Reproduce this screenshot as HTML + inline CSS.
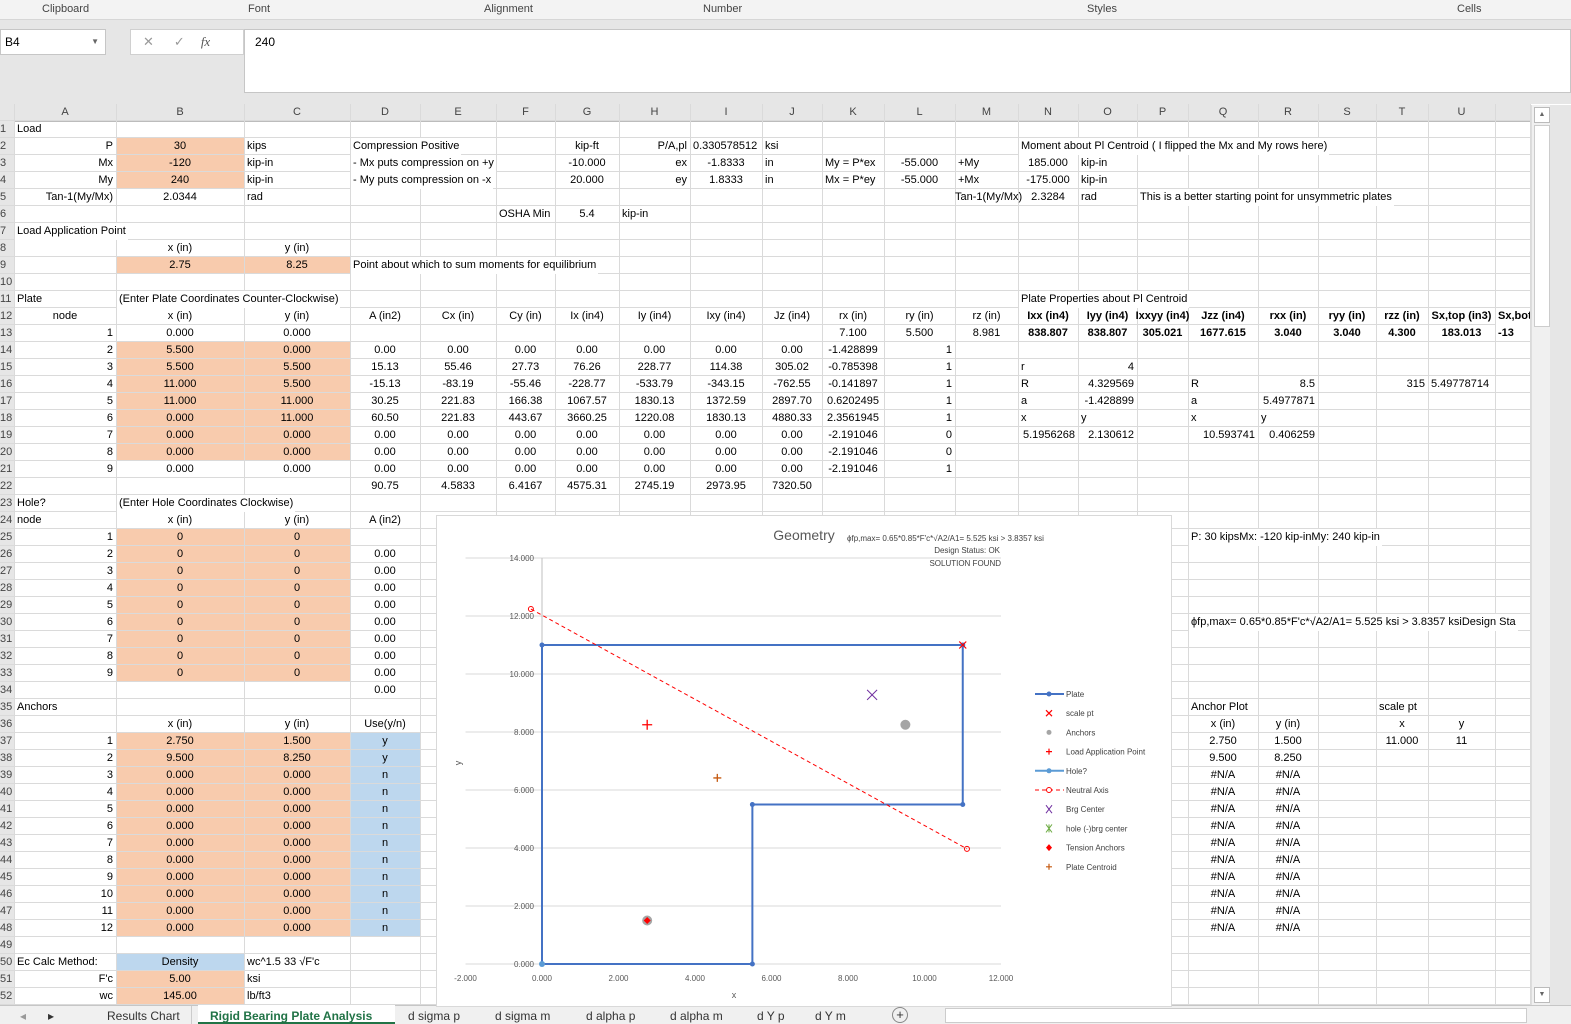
<!DOCTYPE html>
<html><head><meta charset="utf-8">
<style>
body{margin:0;width:1571px;height:1023px;overflow:hidden;background:#fff;font-family:"Liberation Sans",sans-serif;position:relative}
.abs{position:absolute}
.c{position:absolute;font-size:11px;line-height:17px;height:17px;white-space:nowrap;color:#000}
.gl{position:absolute;background:#dadada}
</style></head><body>
<div class="abs" style="left:0;top:0;width:1571px;height:19px;background:#f3f3f3;border-bottom:1px solid #d6d6d6;font-size:11px;color:#444">
 <span class="abs" style="left:42px;top:3px">Clipboard</span>
 <span class="abs" style="left:248px;top:3px">Font</span>
 <span class="abs" style="left:484px;top:3px">Alignment</span>
 <span class="abs" style="left:703px;top:3px">Number</span>
 <span class="abs" style="left:1087px;top:3px">Styles</span>
 <span class="abs" style="left:1457px;top:3px">Cells</span>
</div>
<div class="abs" style="left:0;top:20px;width:1571px;height:84px;background:#e6e6e6"></div>
<div class="abs" style="left:0;top:29px;width:100px;height:24px;background:#fff;border:1px solid #c6c6c6;font-size:12px;line-height:24px;padding-left:4px">B4<span style="position:absolute;right:6px;font-size:8px;color:#666">▼</span></div>
<div class="abs" style="left:130px;top:29px;width:112px;height:24px;background:#fff;border:1px solid #d0d0d0;font-size:13px;line-height:24px;color:#999"><span style="margin-left:12px">✕</span><span style="margin-left:20px">✓</span><span style="margin-left:16px;font-style:italic;color:#555;font-family:'Liberation Serif'">fx</span></div>
<div class="abs" style="left:244px;top:29px;width:1327px;height:64px;background:#fff;border:1px solid #c6c6c6;font-size:12px;padding:5px 10px;box-sizing:border-box">240</div>
<div class="abs" style="left:0;top:104px;width:1530px;height:17px;background:#e6e6e6;border-bottom:1px solid #bcbcbc"></div>
<div class="abs" style="left:0;top:121px;width:14px;height:884px;background:#e6e6e6;border-right:1px solid #bcbcbc"></div>
<div id="sheet"></div>
<div class="abs" style="left:1531px;top:105px;width:18px;height:900px;background:#f0f0f0;border-left:1px solid #ddd"><div style="position:absolute;left:2px;top:2px;width:14px;height:14px;background:#fff;border:1px solid #bbb;font-size:7px;text-align:center;line-height:14px;color:#666">▲</div><div style="position:absolute;left:2px;top:20px;width:14px;height:200px;background:#fff;border:1px solid #ccc"></div><div style="position:absolute;left:2px;bottom:2px;width:14px;height:14px;background:#fff;border:1px solid #bbb;font-size:7px;text-align:center;line-height:14px;color:#666">▼</div></div>
<div class="abs" style="left:1550px;top:105px;width:21px;height:918px;background:#e6e6e6"></div>
<div class="abs" style="left:0;top:1005px;width:1571px;height:18px;background:#f0f0f0;border-top:1px solid #c6c6c6;font-size:12px;color:#333">
 <span class="abs" style="left:20px;top:3px;color:#999">◂</span><span class="abs" style="left:48px;top:3px">▸</span>
 <span class="abs" style="left:96px;top:0;height:18px;padding:3px 11px 0;box-sizing:border-box;border-right:1px solid #ccc">Results Chart</span>
 <span class="abs" style="left:198px;top:-1px;width:197px;height:19px;background:#fff;color:#217346;font-weight:bold;padding:4px 0 0 12px;box-sizing:border-box;border-bottom:2px solid #217346">Rigid Bearing Plate Analysis</span>
 <span class="abs" style="left:408px;top:3px">d sigma p</span>
 <span class="abs" style="left:495px;top:3px">d sigma m</span>
 <span class="abs" style="left:586px;top:3px">d alpha p</span>
 <span class="abs" style="left:670px;top:3px">d alpha m</span>
 <span class="abs" style="left:757px;top:3px">d Y p</span>
 <span class="abs" style="left:815px;top:3px">d Y m</span>
 <span class="abs" style="left:892px;top:1px;width:14px;height:14px;border:1px solid #888;border-radius:50%;text-align:center;line-height:14px;font-size:13px">+</span>
 <span class="abs" style="left:945px;top:2px;width:580px;height:13px;background:#fff;border:1px solid #ccc"></span>
</div>

<svg id="chart" class="abs" style="left:436px;top:515px;background:#fff;border:1px solid #d9d9d9" width="734" height="490" font-family="Liberation Sans, sans-serif"></svg>

<script>
const colX=[14,116,244,350,420,496,555,619,690,762,822,884,955,1018,1078,1137,1188,1258,1318,1376,1428,1495,1530];
const letters="ABCDEFGHIJKLMNOPQRSTUV";
const rowTop=r=>121+(r-1)*17;
const sheet=document.getElementById('sheet');
const ORANGE='#f8cbad',BLUE='#bdd7ee';
function ci(L){return letters.indexOf(L);}
function fill(c1,c2,r1,r2,col){
 const d=document.createElement('div');d.className='abs';
 
 
 d.style.cssText=`left:${colX[ci(c1)]}px;top:${rowTop(r1)}px;width:${colX[ci(c2)+1]-colX[ci(c1)]}px;height:${(r2-r1+1)*17}px;background:${col}`;
 sheet.appendChild(d);
}
fill('B','B',2,4,ORANGE);fill('B','C',9,9,ORANGE);fill('B','C',14,20,ORANGE);fill('B','C',25,33,ORANGE);
fill('B','C',37,48,ORANGE);fill('B','B',51,52,ORANGE);fill('D','D',37,48,BLUE);fill('B','B',50,50,BLUE);
for(let i=0;i<colX.length;i++){const g=document.createElement('div');g.className='gl';
 
 
 g.style.cssText=`left:${colX[i]}px;top:104px;width:1px;height:901px`;sheet.appendChild(g);
 if(i<colX.length-2){const h=document.createElement('div');h.className='c';
 
 
 h.style.cssText=`left:${colX[i]}px;top:104px;width:${colX[i+1]-colX[i]}px;text-align:center;color:#444`;h.textContent=letters[i];sheet.appendChild(h);}}
for(let r=1;r<=53;r++){const g=document.createElement('div');g.className='gl';
 
 
 g.style.cssText=`left:0;top:${rowTop(r)-1}px;width:1530px;height:1px`;sheet.appendChild(g);
 if(r<=52){const h=document.createElement('div');h.className='c';
 
 
 h.style.cssText=`left:0;top:${rowTop(r)}px;width:14px;overflow:hidden;direction:rtl;text-align:left;color:#444`;h.textContent=r;sheet.appendChild(h);}}
const cells=[
['A',1,'Load','l'],
['A',2,'P','r'],['B',2,'30','c'],['C',2,'kips','l'],['D',2,'Compression Positive','l'],['G',2,'kip-ft','c'],['H',2,'P/A,pl','r'],['I',2,'0.330578512','l'],['J',2,'ksi','l'],['N',2,'Moment about Pl Centroid ( I flipped the Mx and My rows here)','l'],
['A',3,'Mx','r'],['B',3,'-120','c'],['C',3,'kip-in','l'],['D',3,'- Mx puts compression on +y','l'],['G',3,'-10.000','c'],['H',3,'ex','r'],['I',3,'-1.8333','c'],['J',3,'in','l'],['K',3,'My = P*ex','l'],['L',3,'-55.000','c'],['M',3,'+My','l'],['N',3,'185.000','c'],['O',3,'kip-in','l'],
['A',4,'My','r'],['B',4,'240','c'],['C',4,'kip-in','l'],['D',4,'- My puts compression on -x','l'],['G',4,'20.000','c'],['H',4,'ey','r'],['I',4,'1.8333','c'],['J',4,'in','l'],['K',4,'Mx = P*ey','l'],['L',4,'-55.000','c'],['M',4,'+Mx','l'],['N',4,'-175.000','c'],['O',4,'kip-in','l'],
['A',5,'Tan-1(My/Mx)','r'],['B',5,'2.0344','c'],['C',5,'rad','l'],['M',5,'Tan-1(My/Mx)','r'],['N',5,'2.3284','c'],['O',5,'rad','l'],['P',5,'This is a better starting point for unsymmetric plates','l'],
['F',6,'OSHA Min','l'],['G',6,'5.4','c'],['H',6,'kip-in','l'],
['A',7,'Load Application Point','l'],
['B',8,'x (in)','c'],['C',8,'y (in)','c'],
['B',9,'2.75','c'],['C',9,'8.25','c'],['D',9,'Point about which to sum moments for equilibrium','l'],
['A',11,'Plate','l'],['B',11,'(Enter Plate Coordinates Counter-Clockwise)','l'],['N',11,'Plate Properties about Pl Centroid','l'],
['A',12,'node','c'],['B',12,'x (in)','c'],['C',12,'y (in)','c'],['D',12,'A (in2)','c'],['E',12,'Cx (in)','c'],['F',12,'Cy (in)','c'],['G',12,'Ix (in4)','c'],['H',12,'Iy (in4)','c'],['I',12,'Ixy (in4)','c'],['J',12,'Jz (in4)','c'],['K',12,'rx (in)','c'],['L',12,'ry (in)','c'],['M',12,'rz (in)','c'],
['N',12,'Ixx (in4)','c',1],['O',12,'Iyy (in4)','c',1],['P',12,'Ixxyy (in4)','c',1],['Q',12,'Jzz (in4)','c',1],['R',12,'rxx (in)','c',1],['S',12,'ryy (in)','c',1],['T',12,'rzz (in)','c',1],['U',12,'Sx,top (in3)','c',1],['V',12,'Sx,bot','l',1],
['A',13,'1','r'],['B',13,'0.000','c'],['C',13,'0.000','c'],['K',13,'7.100','c'],['L',13,'5.500','c'],['M',13,'8.981','c'],
['N',13,'838.807','c',1],['O',13,'838.807','c',1],['P',13,'305.021','c',1],['Q',13,'1677.615','c',1],['R',13,'3.040','c',1],['S',13,'3.040','c',1],['T',13,'4.300','c',1],['U',13,'183.013','c',1],['V',13,'  -13','l',1],
['N',15,'r','l'],['O',15,'4','r'],
['N',16,'R','l'],['O',16,'4.329569','r'],['Q',16,'R','l'],['R',16,'8.5','r'],['T',16,'315','r'],['U',16,'5.49778714','l'],
['N',17,'a','l'],['O',17,'-1.428899','r'],['Q',17,'a','l'],['R',17,'5.4977871','r'],
['N',18,'x','l'],['O',18,'y','l'],['Q',18,'x','l'],['R',18,'y','l'],
['N',19,'5.1956268','r'],['O',19,'2.130612','r'],['Q',19,'10.593741','r'],['R',19,'0.406259','r'],
['D',22,'90.75','c'],['E',22,'4.5833','c'],['F',22,'6.4167','c'],['G',22,'4575.31','c'],['H',22,'2745.19','c'],['I',22,'2973.95','c'],['J',22,'7320.50','c'],
['A',23,'Hole?','l'],['B',23,'(Enter Hole Coordinates Clockwise)','l'],
['A',24,'node','l'],['B',24,'x (in)','c'],['C',24,'y (in)','c'],['D',24,'A (in2)','c'],
['Q',25,'P: 30 kipsMx: -120 kip-inMy: 240 kip-in','l'],
['Q',30,'ϕfp,max= 0.65*0.85*F\'c*√A2/A1= 5.525 ksi > 3.8357 ksiDesign Sta','l'],
['A',35,'Anchors','l'],['Q',35,'Anchor Plot','l'],['T',35,'scale pt','l'],
['B',36,'x (in)','c'],['C',36,'y (in)','c'],['D',36,'Use(y/n)','c'],['Q',36,'x (in)','c'],['R',36,'y (in)','c'],['T',36,'x','c'],['U',36,'y','c'],
['T',37,'11.000','c'],['U',37,'11','c'],
['A',50,'Ec Calc Method:','l'],['B',50,'Density','c'],['C',50,'wc^1.5 33 √F\'c','l'],
['A',51,'F\'c','r'],['B',51,'5.00','c'],['C',51,'ksi','l'],
['A',52,'wc','r'],['B',52,'145.00','c'],['C',52,'lb/ft3','l']
];
const plateRows=[
['5.500','0.000',['0.00','0.00','0.00','0.00','0.00','0.00','0.00'],'-1.428899','1'],
['5.500','5.500',['15.13','55.46','27.73','76.26','228.77','114.38','305.02'],'-0.785398','1'],
['11.000','5.500',['-15.13','-83.19','-55.46','-228.77','-533.79','-343.15','-762.55'],'-0.141897','1'],
['11.000','11.000',['30.25','221.83','166.38','1067.57','1830.13','1372.59','2897.70'],'0.6202495','1'],
['0.000','11.000',['60.50','221.83','443.67','3660.25','1220.08','1830.13','4880.33'],'2.3561945','1'],
['0.000','0.000',['0.00','0.00','0.00','0.00','0.00','0.00','0.00'],'-2.191046','0'],
['0.000','0.000',['0.00','0.00','0.00','0.00','0.00','0.00','0.00'],'-2.191046','0'],
['0.000','0.000',['0.00','0.00','0.00','0.00','0.00','0.00','0.00'],'-2.191046','1']];
plateRows.forEach((p,i)=>{const r=14+i;cells.push(['A',r,String(i+2),'r'],['B',r,p[0],'c'],['C',r,p[1],'c'],['K',r,p[3],'c'],['L',r,p[4],'r']);
 p[2].forEach((v,j)=>cells.push(['DEFGHIJ'[j],r,v,'c']));});
for(let i=0;i<9;i++){const r=25+i;cells.push(['A',r,String(i+1),'r'],['B',r,'0','c'],['C',r,'0','c'],['D',r+1,'0.00','c']);}
const anc=[['2.750','1.500','y'],['9.500','8.250','y']];
for(let i=0;i<12;i++){const r=37+i;const a=anc[i]||['0.000','0.000','n'];
 cells.push(['A',r,String(i+1),'r'],['B',r,a[0],'c'],['C',r,a[1],'c'],['D',r,a[2],'c'],['Q',r,i<2?a[0]:'#N/A','c'],['R',r,i<2?a[1]:'#N/A','c']);}
cells.forEach(([L,r,t,a,b])=>{const i=ci(L);const x0=colX[i],w=(colX[i+1]||1560)-x0;
 const d=document.createElement('div');d.className='c';
 
 
 let st=`top:${rowTop(r)}px;`;
 if(a==='l')st+=`left:${x0+1}px;padding-left:2px;padding-right:2px;`+(t.length*6>w?'background:#fff;':'');
 else if(a==='r')st+=`left:${x0}px;width:${w-3}px;text-align:right;`;
 else st+=`left:${x0-20}px;width:${w+40}px;text-align:center;`;
 if(b)st+='font-weight:bold;';
 if(L==='V'||(L==='Q'&&r===30))st+='max-width:'+(1530-x0-5)+'px;overflow:hidden;';
 d.style.cssText=st;d.textContent=t;sheet.appendChild(d);});
</script>

<script>
const plateX=[0,5.5,5.5,11,11,0,0];
const plateY=[0,0,5.5,5.5,11,11,0];
const naX=[-0.29,11.11];
const naY=[12.24,3.97];
const anchorX=[2.75,9.5];
const anchorY=[1.5,8.25];
const loadPt=[2.75,8.25];
const scalePt=[11,11];
const brgCenter=[8.63,9.28];
const centroid=[4.5833,6.4167];
const tensionAnchor=[2.75,1.5];
const holePt=[0,0];
const xTicks=[-2,0,2,4,6,8,10,12];
const yTicks=[0,2,4,6,8,10,12,14];
const xTickLabels=['-2.000','0.000','2.000','4.000','6.000','8.000','10.000','12.000'];
const yTickLabels=['0.000','2.000','4.000','6.000','8.000','10.000','12.000','14.000'];
const legendLabels=['Plate','scale pt','Anchors','Load Application Point','Hole?','Neutral Axis','Brg Center','hole (-)brg center','Tension Anchors','Plate Centroid'];

const svg=document.getElementById('chart');const NS='http://www.w3.org/2000/svg';
const sx=v=>105+(v)*38.25, sy=v=>448-v*29;
function el(tag,attrs,name,parent){const e=document.createElementNS(NS,tag);for(const k in attrs)e.setAttribute(k,attrs[k]);
 
 
 (parent||svg).appendChild(e);return e;}
yTicks.forEach((t,i)=>{el('line',{x1:sx(-2),x2:sx(12),y1:sy(t),y2:sy(t),stroke:'#d9d9d9','stroke-width':1},'y-gridline');
 const tx=el('text',{x:sx(0)-8,y:sy(t)+3,'font-size':8,fill:'#595959','text-anchor':'end'},'y-tick-label');tx.textContent=yTickLabels[i];});
el('line',{x1:sx(0),x2:sx(0),y1:sy(14),y2:sy(0),stroke:'#bfbfbf'},'y-axis-line');
xTicks.forEach((t,i)=>{const tx=el('text',{x:sx(t),y:465,'font-size':8,fill:'#595959','text-anchor':'middle'},'x-tick-label');tx.textContent=xTickLabels[i];});
let t=el('text',{x:367,y:24,'font-size':14,fill:'#595959','text-anchor':'middle'},'chart-title');t.textContent='Geometry';
t=el('text',{x:410,y:25,'font-size':8,fill:'#404040'},'capacity-annotation');t.textContent="ϕfp,max= 0.65*0.85*F'c*√A2/A1= 5.525 ksi > 3.8357 ksi";
t=el('text',{x:563,y:37,'font-size':8,fill:'#404040','text-anchor':'end'},'design-status');t.textContent='Design Status: OK';
t=el('text',{x:564,y:50,'font-size':8,fill:'#404040','text-anchor':'end'},'solution-status');t.textContent='SOLUTION FOUND';
t=el('text',{x:297,y:482,'font-size':9,fill:'#595959','text-anchor':'middle'},'x-axis-title');t.textContent='x';
t=el('text',{x:24,y:247,'font-size':9,fill:'#595959','text-anchor':'middle',transform:'rotate(-90 24 247)'},'y-axis-title');t.textContent='y';
el('polyline',{points:plateX.map((x,i)=>sx(x)+','+sy(plateY[i])).join(' '),fill:'none',stroke:'#4472c4','stroke-width':2},'plate-series');
plateX.forEach((x,i)=>el('circle',{cx:sx(x),cy:sy(plateY[i]),r:2.5,fill:'#4472c4'},'plate-point'));
el('circle',{cx:sx(holePt[0]),cy:sy(holePt[1]),r:3,fill:'#5b9bd5'},'hole-point');
el('line',{x1:sx(naX[0]),y1:sy(naY[0]),x2:sx(naX[1]),y2:sy(naY[1]),stroke:'#ff0000','stroke-width':1,'stroke-dasharray':'4,3'},'neutral-axis');
naX.forEach((x,i)=>el('circle',{cx:sx(x),cy:sy(naY[i]),r:2.5,fill:'none',stroke:'#ff0000'},'neutral-axis-point'));
function cross(x,y,s,c,name,w){el('path',{d:`M${x-s},${y-s}L${x+s},${y+s}M${x-s},${y+s}L${x+s},${y-s}`,stroke:c,'stroke-width':w||1.2,fill:'none'},name);}
function plus(x,y,s,c,name){el('path',{d:`M${x-s},${y}L${x+s},${y}M${x},${y-s}L${x},${y+s}`,stroke:c,'stroke-width':1.3,fill:'none'},name);}
cross(sx(scalePt[0]),sy(scalePt[1]),3.5,'#ff0000','scale-point');
anchorX.forEach((x,i)=>el('circle',{cx:sx(x),cy:sy(anchorY[i]),r:5,fill:'#a5a5a5'},'anchor-point'));
el('path',{d:`M${sx(tensionAnchor[0])},${sy(tensionAnchor[1])-3.5}l3.5,3.5l-3.5,3.5l-3.5,-3.5z`,fill:'#ff0000'},'tension-anchor');
plus(sx(loadPt[0]),sy(loadPt[1]),5,'#ff0000','load-application-point');
plus(sx(centroid[0]),sy(centroid[1]),4,'#c55a11','plate-centroid');
cross(sx(brgCenter[0]),sy(brgCenter[1]),5,'#7030a0','brg-center',1);
legendLabels.forEach((lab,i)=>{const y=178+i*19.2,x=612;
 const g=el('g',{},'legend-entry');
 if(i===0||i===4){el('line',{x1:598,x2:627,y1:y,y2:y,stroke:i?'#5b9bd5':'#4472c4','stroke-width':2},'legend-line',g);el('circle',{cx:x,cy:y,r:2.5,fill:i?'#5b9bd5':'#4472c4'},'legend-marker',g);}
 else if(i===1){el('path',{d:`M${x-3},${y-3}L${x+3},${y+3}M${x-3},${y+3}L${x+3},${y-3}`,stroke:'#ff0000','stroke-width':1.2},'legend-marker',g);}
 else if(i===2){el('circle',{cx:x,cy:y,r:2.5,fill:'#a5a5a5'},'legend-marker',g);}
 else if(i===3||i===9){el('path',{d:`M${x-3},${y}L${x+3},${y}M${x},${y-3}L${x},${y+3}`,stroke:i===3?'#ff0000':'#c55a11','stroke-width':1.2},'legend-marker',g);}
 else if(i===5){el('line',{x1:598,x2:627,y1:y,y2:y,stroke:'#ff0000','stroke-dasharray':'4,3'},'legend-line',g);el('circle',{cx:x,cy:y,r:2.5,fill:'#fff',stroke:'#ff0000'},'legend-marker',g);}
 else if(i===6){el('path',{d:`M${x-3},${y-4}L${x+3},${y+4}M${x-3},${y+4}L${x+3},${y-4}`,stroke:'#7030a0'},'legend-marker',g);}
 else if(i===7){el('path',{d:`M${x-3},${y-4}L${x+3},${y+4}M${x-3},${y+4}L${x+3},${y-4}M${x},${y-4}L${x},${y+4}`,stroke:'#70ad47'},'legend-marker',g);}
 else if(i===8){el('path',{d:`M${x},${y-3.5}l3,3.5l-3,3.5l-3,-3.5z`,fill:'#ff0000'},'legend-marker',g);}
 const tx=el('text',{x:629,y:y+3,'font-size':8,fill:'#404040'},'legend-label',g);tx.textContent=lab;});
</script>
</body></html>
